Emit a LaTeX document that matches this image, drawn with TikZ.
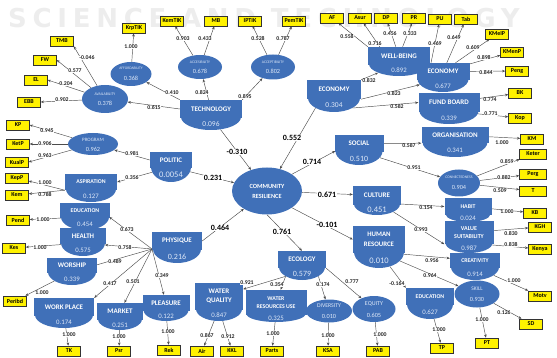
\documentclass[tikz,border=0pt]{standalone}
\usepackage{fontspec}
\setmainfont{Carlito}
\newfontfamily\wmfont[LetterSpace=22]{DejaVu Sans}
\usetikzlibrary{arrows.meta,shapes.geometric}
\pgfdeclarelayer{bg}
\pgfdeclarelayer{top}
\pgfsetlayers{bg,main,top}
\definecolor{nb}{RGB}{64,112,184}
\definecolor{nbv}{RGB}{222,232,248}
\newcommand\fsz[1]{\fontsize{#1}{#1}\selectfont}
\newcommand\dimf{\fontsize{7}{8.5}\selectfont\bfseries}
\newcommand\subf{\fontsize{5.8}{7}\selectfont\bfseries}
\newcount\labn
\tikzset{
 ind/.style={draw=black!80, line width=0.5pt, fill=yellow, minimum width=23pt, minimum height=10pt, inner sep=0pt, font=\fsz{6}\bfseries},
 te/.style={ellipse, fill=nb, inner sep=0pt},
 tr/.style={rectangle, fill=nb, inner sep=0pt, text=white, align=center},
 tv/.style={inner sep=0pt, text=nbv, font=\fsz{6.8}},
 el/.style={ellipse, fill=nb, inner sep=0pt},
 ol/.style={inner sep=0pt, text=nbv},
 ov/.style={inner sep=0pt, text=nbv, font=\fsz{6.3}},
 crl/.style={inner sep=0pt, text=white, font=\fsz{6.3}\bfseries},
 lk/.style={draw=black!70, line width=0.45pt, -{Stealth[length=3.2pt,width=2.6pt]}},
 lab/.style={fill=white, inner sep=0.3pt, font=\fsz{5.8}\bfseries, text=black!85},
 blab/.style={fill=white, inner sep=0.5pt, font=\fsz{8}\bfseries, text=black},
}
% name, cx, width, ytop, ybottom(rect), ybottom(ellipse), label, value, label font
\newcommand\tomb[9]{%
 \node[te, minimum width={(#3-2)*1pt}, minimum height={(#6-#5+1)*2pt}] (#1e) at (#2,#5-1) {};
 \node[tr, font=#9, minimum width={#3*1pt}, minimum height={(#5-#4)*1pt}] (#1) at ({#2},{(#4+#5)/2}) {#7};
 \node[tv] (#1v) at ({#2},{(#5+#6)/2}) {#8};}
% name, cx, cy, w, h, label, label y, value, value y
\newcommand\ovl[9]{%
 \node[el, minimum width={#4*1pt}, minimum height={#5*1pt}] (#1) at (#2,#3) {};
 \node[ol] (#1l) at (#2,#7) {#6};
 \node[ov] (#1v) at (#2,#9) {#8};}
\newcommand\lnk[6][lab]{%
 \begin{pgfonlayer}{bg}\draw[lk] (#2) -- (#3);\end{pgfonlayer}%
 \global\advance\labn by 1\relax
 \begin{pgfonlayer}{top}\node[#1] (lb\the\labn) at (#4,#5) {#6};\end{pgfonlayer}}
\begin{document}
\begin{tikzpicture}[x=1pt,y=-1pt]
\useasboundingbox (0,0) rectangle (557,358);
\begin{pgfonlayer}{bg}
\begin{scope}
\clip (0,0) rectangle (557,358);
\node[anchor=base west, inner sep=0pt, text=black!7, font=\wmfont\bfseries\fontsize{26}{26}\selectfont] (wm) at (8,28) {SCIENCE AND TECHNOLOGY};
\end{scope}
\end{pgfonlayer}

% ---------- tombstone latent variables
\tomb{tech}{211}{62}{100}{118}{130}{TECHNOLOGY}{\fsz{7.5}0.096}{\dimf}
\tomb{econ}{334}{54}{80}{99}{112}{ECONOMY}{\fsz{7.5}0.304}{\dimf}
\tomb{well}{399}{62}{47}{65}{76}{WELL-BEING}{0.892}{\dimf}
\tomb{econr}{443}{53}{63}{80}{92}{ECONOMY}{0.677}{\dimf}
\tomb{fund}{449}{61}{93}{112}{124}{FUND BOARD}{0.339}{\dimf}
\tomb{pol}{171}{42}{152}{168}{182}{POLITIC}{\fsz{8.5}0.0054}{\dimf}
\tomb{asp}{91}{52}{174}{190}{202}{ASPIRATION}{0.127}{\subf}
\tomb{edu}{85}{50}{203}{218}{230}{EDUCATION}{0.454}{\subf}
\tomb{hea}{83}{46}{228}{244}{256}{HEALTH}{0.575}{\dimf}
\tomb{wor}{72}{50}{258}{273}{285}{WORSHIP}{0.339}{\dimf}
\tomb{wp}{64}{60}{298}{316}{328}{WORK PLACE}{0.174}{\dimf}
\tomb{mkt}{120}{46}{303}{320}{330}{MARKET}{0.251}{\dimf}
\tomb{pls}{166}{47}{295}{311}{321}{PLEASURE}{0.122}{\dimf}
\tomb{phy}{177}{50}{232}{250}{263}{PHYSIQUE}{\fsz{8}0.216}{\dimf}
\tomb{wq}{219}{48}{283}{310}{321}{WATER\\QUALITY}{0.847}{\fontsize{7}{9}\selectfont\bfseries}
\tomb{wru}{276}{61}{290}{315}{322}{WATER\\RESOURCES USE}{0.325}{\fontsize{5.8}{7.5}\selectfont\bfseries}
\tomb{eco}{302}{48}{251}{268}{280}{ECOLOGY}{\fsz{8}0.579}{\dimf}
\tomb{hr}{379}{52}{226}{253}{268}{HUMAN\\RESOURCE}{\fsz{8.5}0.010}{\fontsize{6.8}{10}\selectfont\bfseries}
\tomb{cul}{377}{48}{186}{205}{215}{CULTURE}{\fsz{8.5}0.451}{\dimf}
\tomb{soc}{359}{49}{135}{152}{165}{SOCIAL}{\fsz{8}0.510}{\dimf}
\tomb{org}{455}{67}{127}{143}{157}{ORGANISATION}{0.341}{\dimf}
\tomb{hab}{468}{47}{198}{215}{222}{HABIT}{0.024}{\subf}
\tomb{vs}{469}{49}{221}{244}{253}{VALUE\\SUITABILITY}{0.987}{\fontsize{6}{8}\selectfont\bfseries}
\tomb{cre}{475}{50}{253}{268}{280}{CREATIVITY}{0.914}{\subf}
\tomb{edr}{430}{48}{288}{305}{319}{EDUCATION}{0.627}{\subf}

% ---------- elliptic latent variables
\ovl{aff}{131}{74}{41}{24}{\fsz{3.7}AFFORDABILITY}{68}{0.368}{78.5}
\ovl{avail}{105}{99}{46}{28}{\fsz{3.9}AVAILABILITY}{94}{0.378}{103.5}
\ovl{acc}{200}{67}{44}{24}{\fsz{3.8}ACCESIBILITY}{62}{0.678}{71}
\ovl{acp}{273}{67}{44}{25}{\fsz{3.8}ACCEPTIBILITY}{62}{0.802}{71}
\ovl{prog}{93}{144}{50}{22}{\fsz{5}PROGRAM}{140}{0.962}{149}
\ovl{con}{459}{183}{42}{27}{\fsz{3.8}CONNECTEDNESS}{177}{0.904}{187}
\ovl{skl}{477}{294}{45}{27}{\fsz{5.5}SKILL}{289}{0.930}{299}
\ovl{div}{329}{311}{46}{23}{\fsz{5.8}DIVERSITY}{306}{0.010}{316}
\ovl{equ}{374}{309}{43}{26}{\fsz{6}EQUITY}{304}{0.605}{315}
\node[el, minimum width=70pt, minimum height=47pt] (cr) at (267,191) {};
\node[crl] (crl1) at (267,186) {COMMUNITY};
\node[crl] (crl2) at (267,196) {RESILIENCE};
\coordinate (phyh) at (152,249);

% ---------- indicators
\node[ind] (iKrpTIK) at (134,28) {KrpTIK};
\node[ind] (iKemTIK) at (172,21) {KemTIK};
\node[ind] (iMB) at (216,21) {MB};
\node[ind] (iIPTIK) at (250,21) {IPTIK};
\node[ind] (iPemTIK) at (294,21) {PemTIK};
\node[ind] (iAF) at (332,18) {AF};
\node[ind] (iAsur) at (360,18) {Asur};
\node[ind] (iDP) at (386,18) {DP};
\node[ind] (iPR) at (414,18) {PR};
\node[ind] (iPU) at (440,19) {PU};
\node[ind] (iTab) at (466,19) {Tab};
\node[ind] (iKMeIP) at (497,34) {KMeIP};
\node[ind] (iKMenP) at (512,52) {KMenP};
\node[ind] (iPeng) at (517,71) {Peng};
\node[ind] (iBK) at (520,93) {BK};
\node[ind] (iKop) at (520,118) {Kop};
\node[ind] (iTMB) at (62,41) {TMB};
\node[ind] (iFW) at (45,60) {FW};
\node[ind] (iEL) at (36,80) {EL};
\node[ind] (iEBB) at (29,102) {EBB};
\node[ind] (iKP) at (18,125) {KP};
\node[ind] (iKetP) at (18,144) {KetP};
\node[ind] (iKualP) at (17,162) {KualP};
\node[ind] (iKepP) at (17,178) {KepP};
\node[ind] (iKem) at (17,195) {Kem};
\node[ind] (iPend) at (18,220) {Pend};
\node[ind] (iKes) at (14,248) {Kes};
\node[ind] (iPeribd) at (15,301) {Peribd};
\node[ind] (iTK) at (69,351) {TK};
\node[ind] (iPsr) at (119,351) {Psr};
\node[ind] (iRek) at (169,350) {Rek};
\node[ind] (iAir) at (202,351) {Air};
\node[ind] (iKKL) at (232,351) {KKL};
\node[ind] (iParts) at (272,351) {Parts};
\node[ind] (iKSA) at (328,351) {KSA};
\node[ind] (iPAB) at (378,351) {PAB};
\node[ind] (iTP) at (442,348) {TP};
\node[ind] (iPT) at (487,343) {PT};
\node[ind] (iSD) at (531,324) {SD};
\node[ind] (iMotv) at (540,296) {Motv};
\node[ind] (iKM) at (532,139) {KM};
\node[ind, minimum width=27pt] (iKeter) at (533,154) {Keter};
\node[ind, minimum width=27pt] (iPerg) at (533,174) {Perg};
\node[ind, minimum width=27pt] (iT) at (533,191) {T};
\node[ind] (iKB) at (535,213) {KB};
\node[ind] (iKGH) at (540,227) {KGH};
\node[ind] (iKenya) at (540,249) {Kenya};

% ---------- indicator links
\lnk{aff}{iKrpTIK}{131}{47}{1.000}
\lnk{avail}{iTMB.south east}{87}{58}{-0.046}
\lnk{avail}{iFW.east}{75}{71}{0.577}
\lnk{avail}{iEL.east}{66}{84}{0.204}
\lnk{avail}{iEBB.east}{62}{100}{0.902}
\lnk{acc}{iKemTIK}{183}{39}{0.903}
\lnk{acc}{iMB}{205}{39}{0.433}
\lnk{acp}{iIPTIK}{258}{39}{0.528}
\lnk{acp}{iPemTIK}{283}{39}{0.787}
\lnk{well.north west}{iAF}{347}{37}{0.558}
\lnk{[xshift=12pt]well.north west}{iAsur}{375}{44}{0.716}
\lnk{well}{iDP}{390}{34}{0.456}
\lnk{well}{iPR}{410}{34}{0.333}
\lnk{[xshift=-12pt]econr.north}{iPU}{435}{44}{0.469}
\lnk{econr}{iTab}{454}{38}{0.649}
\lnk{econr}{iKMeIP}{473}{48}{0.609}
\lnk{econr}{iKMenP}{484}{58}{0.898}
\lnk{econr}{iPeng}{486}{73}{0.844}
\lnk{fund}{iBK}{490}{100}{0.774}
\lnk{funde}{iKop}{491}{114}{0.771}
\lnk{prog}{iKP.east}{47}{131}{0.945}
\lnk{prog}{iKetP.east}{45}{144}{0.906}
\lnk{prog}{iKualP.east}{45}{156}{0.963}
\lnk{asp.south west}{iKepP}{45}{183}{1.000}
\lnk{asp.south west}{iKem}{45}{195}{0.788}
\lnk{edue}{iPend}{43}{220}{1.000}
\lnk{heae}{iKes}{40}{248}{1.000}
\lnk{wore}{iPeribd}{42}{293}{1.000}
\lnk{wpe}{iTK}{69}{335}{1.000}
\lnk{mkte}{iPsr}{119}{337}{1.000}
\lnk{plse}{iRek}{168}{332}{1.000}
\lnk{wqe}{iAir}{207}{336}{0.867}
\lnk{wqe}{iKKL}{228}{337}{0.912}
\lnk{wrue}{iParts}{273}{334}{1.000}
\lnk{div}{iKSA}{328}{336}{1.000}
\lnk{equ}{iPAB}{380}{335}{1.000}
\lnk{edre}{iTP}{439}{330}{1.000}
\lnk{skl}{iPT}{482}{320}{1.000}
\lnk{skl}{iSD}{504}{313}{0.126}
\lnk{cree}{iMotv}{514}{281}{1.000}
\lnk{vs}{iKGH}{511}{234}{0.830}
\lnk{vse}{iKenya}{511}{245}{0.838}
\lnk{hab}{iKB}{507}{212}{1.000}
\lnk{con}{iKeter}{507}{162}{0.859}
\lnk{con}{iPerg}{504}{178}{0.882}
\lnk{con}{iT}{500}{191}{0.509}
\lnk{org}{iKM}{502}{143}{1.000}

% ---------- dimension to sub-dimension links
\lnk{tech.north west}{aff}{172}{93}{0.410}
\lnk{tech}{acc}{202}{93}{0.824}
\lnk{tech.north east}{acp}{245}{97}{0.895}
\lnk{tech.west}{avail}{154}{108}{0.615}
\lnk{econ.north east}{welle}{369}{81}{0.832}
\lnk{econ.south east}{econre}{394}{94}{0.823}
\lnk{econe.south east}{fund.west}{397}{107}{0.582}
\lnk{pol.west}{prog}{132}{154}{0.981}
\lnk{pole}{asp.east}{132}{178}{0.356}
\lnk{phyh}{edue.east}{127}{230}{0.673}
\lnk{phyh}{heae}{125}{248}{0.758}
\lnk{phyh}{wore}{115}{262}{0.489}
\lnk{phyh}{wp.north east}{110}{284}{0.417}
\lnk{phyh}{mkt}{133}{282}{0.501}
\lnk{phyh}{pls}{162}{276}{0.349}
\lnk{ecoe.south west}{wq}{247}{283}{0.921}
\lnk{ecoe.south west}{wru}{277}{285}{0.354}
\lnk{ecoe.south east}{div}{323}{285}{0.174}
\lnk{eco.south east}{equ}{352}{282}{0.777}
\lnk{hre}{edr.north west}{397}{284}{-0.164}
\lnk{hre}{cre}{432}{261}{0.956}
\lnk{hre}{skl}{430}{276}{0.964}
\lnk{cule.east}{hab.west}{426}{208}{0.154}
\lnk{cule.south east}{vs.south west}{421}{230}{0.993}
\lnk{soc}{org.south west}{409}{146}{0.587}
\lnk{soce}{con}{414}{168}{0.951}

% ---------- community resilience links
\lnk[blab]{teche}{cr}{237}{152}{-0.310}
\lnk[blab]{econe.south west}{cr}{292}{138}{0.552}
\lnk[blab]{pole}{cr}{213}{178}{0.231}
\lnk[blab]{phy.east}{cr}{220}{228}{0.464}
\lnk[blab]{cr.north east}{soce.west}{312}{162}{0.714}
\lnk[blab]{cr}{cul}{327}{195}{0.671}
\lnk[blab]{cr.south east}{hr.west}{327}{225}{-0.101}
\lnk[blab]{cr.south}{eco.north}{282}{232}{0.761}
\end{tikzpicture}
\end{document}
